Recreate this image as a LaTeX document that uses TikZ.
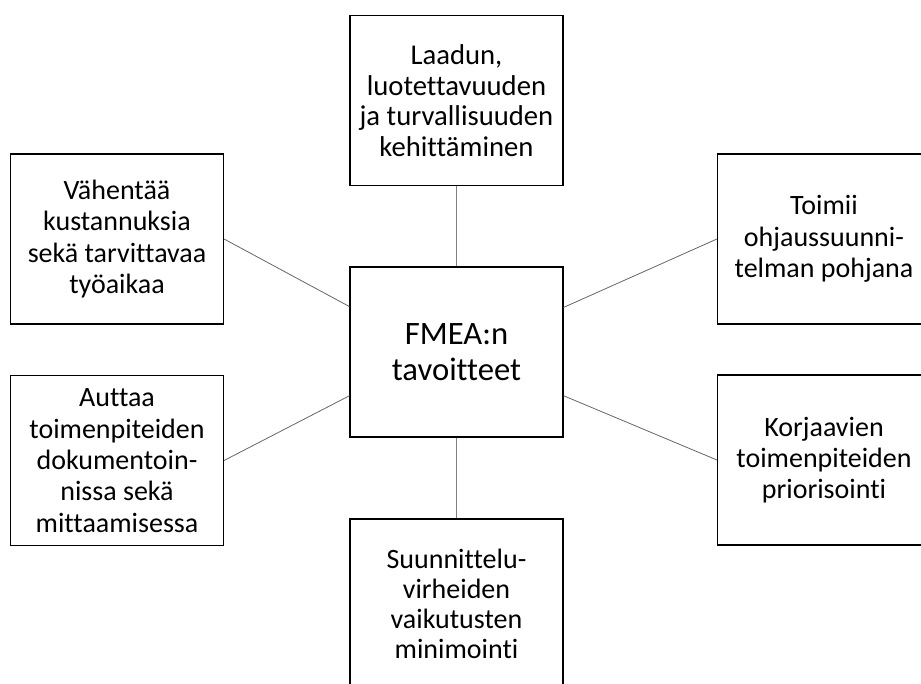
\documentclass[tikz,border=0pt]{standalone}
\usepackage{fontspec}
\setmainfont{Carlito}[Ligatures=NoCommon]
\usetikzlibrary{calc}

\begin{document}
\begin{tikzpicture}[x=0.75pt,y=-0.75pt,
  goalbox/.style={draw=black, line width=1.1pt, rectangle, inner sep=0pt,
    minimum width=159.5pt, minimum height=127.5pt, align=center,
    font=\fontsize{21}{23.5}\selectfont},
  hubbox/.style={goalbox, font=\fontsize{24.5}{27.5}\selectfont},
  spoke/.style={draw=black!60, line width=0.6pt},
  stem/.style={draw=black!50, line width=1pt}]

  % page frame; the outer boxes run past the right and bottom edges
  \path[use as bounding box, clip] (0,0) rectangle (921,684);

  % hub
  \node[hubbox] (hub) at (456.5,352) {FMEA:n\\tavoitteet};

  % goals around the hub
  \node[goalbox, font=\fontsize{21.5}{23}\selectfont] (top) at (456.5,100.5)
    {Laadun,\\luotettavuuden\\ja turvallisuuden\\kehittäminen};
  \node[goalbox] (lt) at (117,239)
    {Vähentää\\kustannuksia\\sekä tarvittavaa\\työaikaa};
  \node[goalbox] (lb) at (117,460.5)
    {Auttaa\\toimenpiteiden\\dokumentoin-\\nissa sekä\\mittaamisessa};
  \node[goalbox] (rt) at (824,239)
    {Toimii\\ohjaussuunni-\\telman pohjana};
  \node[goalbox] (rb) at (824,460)
    {Korjaavien\\toimenpiteiden\\priorisointi};
  \node[goalbox, font=\fontsize{21}{22.5}\selectfont] (bot) at (456.5,604)
    {Suunnittelu-\\virheiden\\vaikutusten\\minimointi};

  % attachment points on the hub sides
  \coordinate (hwt) at ($(hub.north west)!0.235!(hub.south west)$);
  \coordinate (hwb) at ($(hub.north west)!0.755!(hub.south west)$);
  \coordinate (het) at ($(hub.north east)!0.24!(hub.south east)$);
  \coordinate (heb) at ($(hub.north east)!0.755!(hub.south east)$);

  % connectors
  \draw[stem] (top.south) -- (hub.north);
  \draw[stem] (hub.south) -- (bot.north);
  \draw[spoke] (lt.east) -- (hwt);
  \draw[spoke] (lb.east) -- (hwb);
  \draw[spoke] (rt.west) -- (het);
  \draw[spoke] (rb.west) -- (heb);
\end{tikzpicture}
\end{document}
